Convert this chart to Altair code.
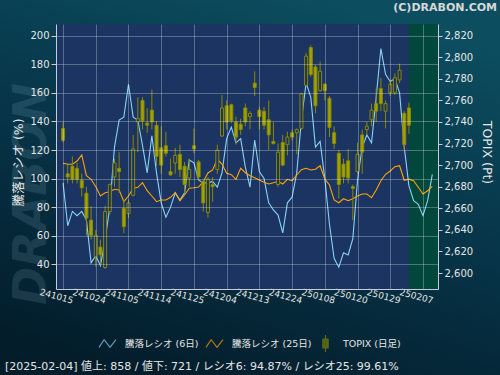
import altair as alt
import pandas as pd

# ---------------- data ----------------
date_labels = ["241015", "241024", "241105", "241114", "241125", "241204",
               "241213", "241224", "250108", "250120", "250129", "250207"]

ratio6 = [97, 67, 77, 74, 77, 71, 41, 46, 39, 57,
          80, 122, 141, 143, 166, 143, 141, 123, 104, 130,
          104, 83, 73, 80, 90, 85, 90, 113, 111, 99,
          97, 97, 98, 94, 104, 128, 136, 125, 128, 108,
          94, 127, 105, 100, 83, 78, 74.5, 62, 83, 87,
          104, 141, 167, 157, 122, 126, 100, 68, 44, 38,
          48, 46.5, 58, 99, 122, 130.5, 125, 157, 191, 173,
          168, 170, 160, 122, 94.87, 84.5, 82, 74, 84.5, 103]

ratio25 = [110.7, 110, 110, 112.3, 116.5, 102, 99.5, 94.3, 87.8, 90.1,
           90.8, 92.5, 92, 83.8, 87.8, 93.2, 93.9, 97.1, 91.5, 87.8,
           83.8, 85, 85, 86.9, 90.1, 84.5, 88.5, 93.2, 93.6, 94.1,
           97.8, 103.9, 106, 113.5, 110.2, 103.7, 102.7, 99.5, 107.2, 104.1,
           102, 100.5, 99, 97.4, 96.2, 97.1, 98.1, 96.2, 99.5, 98.5,
           102.5, 106.2, 107.2, 106, 106.5, 109, 99.7, 95.5, 85, 83.1,
           85.9, 84.5, 85.9, 87.8, 89.2, 89.2, 86.6, 92, 98.5, 103,
           105.3, 108.3, 109, 98.8, 99.61, 98.5, 93.9, 89.2, 91.5, 94.6]

topix_open = [2734, 2692, 2699, 2697, 2686, 2674, 2649, 2615, 2624, 2605,
              2657, 2689, 2697, 2660, 2655, 2672, 2740, 2760, 2739, 2751,
              2737, 2716, 2718, 2694, 2702, 2710, 2699, 2688, 2718, 2703,
              2685, 2656, 2682, 2696, 2727, 2755, 2756, 2740, 2738, 2753,
              2745, 2776, 2751, 2750, 2742, 2722, 2682, 2721, 2719, 2730,
              2730, 2734, 2774, 2809, 2791, 2769, 2775, 2762, 2730, 2711,
              2701, 2704, 2680, 2694, 2728, 2733, 2742, 2757, 2771, 2750,
              2767, 2767, 2779, 2748, 2753]
topix_high = [2740, 2702, 2708, 2702, 2692, 2680, 2662, 2640, 2631, 2662,
              2683, 2706, 2712, 2669, 2668, 2728, 2763, 2763, 2753, 2770,
              2741, 2736, 2731, 2706, 2716, 2719, 2703, 2706, 2734, 2705,
              2686, 2689, 2689, 2719, 2765, 2760, 2757, 2745, 2743, 2757,
              2750, 2787, 2754, 2754, 2760, 2740, 2720, 2728, 2731, 2733,
              2734, 2767, 2804, 2811, 2793, 2796, 2776, 2764, 2736, 2714,
              2706, 2715, 2682, 2721, 2733, 2740, 2757, 2771, 2781, 2760,
              2779, 2785, 2794, 2750, 2758]
topix_low = [2721, 2683, 2683, 2683, 2671, 2635, 2631, 2606, 2607, 2604,
             2654, 2680, 2674, 2637, 2651, 2671, 2712, 2733, 2730, 2733,
             2699, 2692, 2708, 2690, 2692, 2689, 2674, 2680, 2711, 2685,
             2657, 2651, 2666, 2692, 2726, 2733, 2739, 2719, 2728, 2736,
             2733, 2764, 2733, 2733, 2714, 2719, 2680, 2699, 2709, 2723,
             2710, 2733, 2773, 2782, 2748, 2768, 2760, 2726, 2715, 2669,
             2683, 2683, 2649, 2692, 2692, 2728, 2736, 2740, 2750, 2734,
             2764, 2765, 2776, 2713, 2729]
topix_close = [2723, 2689, 2687, 2687, 2679, 2651, 2635, 2635, 2617, 2657,
               2682, 2702, 2694, 2643, 2665, 2715, 2743, 2741, 2737, 2740,
               2708, 2700, 2711, 2691, 2709, 2696, 2682, 2696, 2715, 2689,
               2665, 2687, 2680, 2714, 2753, 2740, 2741, 2726, 2733, 2740,
               2748, 2772, 2745, 2737, 2728, 2720, 2712, 2700, 2726, 2726,
               2733, 2766, 2801, 2784, 2755, 2787, 2769, 2735, 2720, 2682,
               2689, 2688, 2678.5, 2710, 2712, 2736, 2751, 2750, 2757, 2757,
               2775, 2781, 2788, 2719, 2737]

legend_names = ["騰落レシオ (6日)", "騰落レシオ (25日)", "TOPIX (日足)"]

status_date = "2025-02-04"
advances = 858
declines = 721
last_ratio6 = 94.87
last_ratio25 = 99.61
copyright_text = "(C)DRABON.COM"
watermark_text = "DRABON"

# ---------------- styles ----------------
FONT = "DejaVu Sans, Noto Sans CJK JP"
NAVY = "#1b3461"
GREEN = "#02473b"
BLUE = "#8ad2f4"
ORANGE = "#ffa300"
OLIVE = "#a3a300"
OLIVE_DARK = "#888800"
TEXT = "#e6e6e6"
AXIS_LINE = "#c8ccd8"

lines_df = pd.DataFrame({"i": list(range(len(ratio6))), "r6": ratio6, "r25": ratio25})
candle_df = pd.DataFrame({
    "i": list(range(len(topix_open))),
    "o": topix_open, "h": topix_high, "l": topix_low, "c": topix_close,
})
last_i = len(topix_open) - 1
one = pd.DataFrame({"k": [0]})

x_scale = alt.Scale(domain=[-0.44, 79.15], nice=False, zero=False)
tick_vals = [7 * k for k in range(len(date_labels))]
label_expr = "[" + ",".join("'%s'" % s for s in date_labels) + "][round(datum.value / 7)]"

x_axis = alt.Axis(
    values=tick_vals, labelExpr=label_expr, labelAngle=15, labelAlign="center",
    labelBaseline="top", labelOffset=-6, labelPadding=3, ticks=False,
    grid=True, gridColor="#ffffff", gridOpacity=0.28, gridWidth=1,
    domainColor=AXIS_LINE, labelColor=TEXT, labelFontSize=9, title=None,
    zindex=1, labelOverlap=False, labelFlush=False,
)

yl_scale = alt.Scale(domain=[22.7, 208.2], nice=False, zero=False)
yl_axis = alt.Axis(
    values=list(range(40, 201, 20)), title="騰落レシオ (%)", titleAngle=270,
    titleX=-38, titleY=138, titleAlign="center", titleBaseline="middle",
    titleFontSize=12.5, titleFontWeight="normal", titleColor=TEXT,
    grid=True, gridColor="#ffffff", gridOpacity=0.28,
    tickSize=5, tickColor=AXIS_LINE, domainColor=AXIS_LINE,
    labelColor=TEXT, labelFontSize=10, labelPadding=2, zindex=1,
)

yr_scale = alt.Scale(domain=[2585.2, 2830.8], nice=False, zero=False)
yr_axis = alt.Axis(
    orient="right", values=list(range(2600, 2821, 20)), format=",d",
    title="TOPIX (Pt)", titleAngle=90, titleX=48, titleY=128,
    titleAlign="center", titleBaseline="middle", titleFontSize=12.5,
    titleFontWeight="normal", titleColor=TEXT, grid=False,
    tickSize=4, tickColor=AXIS_LINE, domainColor=AXIS_LINE,
    labelColor=TEXT, labelFontSize=10, labelPadding=2, zindex=1,
)

# page background gradient (decoration)
page_bg = alt.Chart(one).mark_rect(
    color=alt.Gradient(
        gradient="linear",
        stops=[alt.GradientStop(color="#0c4e60", offset=0),
               alt.GradientStop(color="#07364a", offset=0.45),
               alt.GradientStop(color="#031d2b", offset=1)],
        x1=0.7, y1=0, x2=0.3, y2=1,
    )
).encode(x=alt.value(-56), x2=alt.value(444), y=alt.value(-24), y2=alt.value(351))

plot_bg = alt.Chart(one).mark_rect(color=NAVY).encode(
    x=alt.value(0), x2=alt.value("width"), y=alt.value(0), y2=alt.value("height")
)

green = alt.Chart(pd.DataFrame({"start": [last_i]})).mark_rect(color=GREEN).encode(
    x=alt.X("start:Q", scale=x_scale, axis=x_axis),
    x2=alt.value("width"), y=alt.value(0), y2=alt.value("height"),
)

lines = alt.Chart(lines_df).transform_fold(["r6", "r25"], as_=["series", "value"]).mark_line(
    strokeWidth=1.1
).encode(
    x=alt.X("i:Q", scale=x_scale, axis=x_axis),
    y=alt.Y("value:Q", scale=yl_scale, axis=yl_axis),
    color=alt.Color("series:N", scale=alt.Scale(domain=["r6", "r25"], range=[BLUE, ORANGE]), legend=None),
)

zig = "M-1,0.45L-0.4,-0.45L0.3,0.45L1,-0.45"
candle_icon = "M-0.31,-0.53H0.31V0.53H-0.31Z M0,-0.53V-1 M0,0.53V1"
leg = alt.Legend(
    orient="none", legendX=42, legendY=310, direction="horizontal", title=None,
    symbolSize=289, symbolStrokeWidth=1.2, labelFontSize=9.5, labelColor=TEXT,
    labelFont=FONT, labelOffset=8, columnPadding=4, padding=0, gridAlign="none",
)
legend_layer = alt.Chart(pd.DataFrame({"name": legend_names})).transform_filter("false").mark_point().encode(
    shape=alt.Shape("name:N", scale=alt.Scale(domain=legend_names, range=[zig, zig, candle_icon]), legend=leg),
    stroke=alt.Stroke("name:N", scale=alt.Scale(domain=legend_names, range=[BLUE, ORANGE, OLIVE_DARK]), legend=leg),
    fill=alt.Fill("name:N", scale=alt.Scale(domain=legend_names, range=["transparent", "transparent", OLIVE]), legend=leg),
)

status_text = "[%s]  値上: %d / 値下: %d / レシオ6: %.2f%% / レシオ25: %.2f%%" % (
    status_date, advances, declines, last_ratio6, last_ratio25)
status = alt.Chart(pd.DataFrame({"t": [status_text]})).mark_text(
    align="left", baseline="middle", fontSize=11, color=TEXT, font=FONT
).encode(text="t:N", x=alt.value(-51), y=alt.value(343))

copyright_mark = alt.Chart(pd.DataFrame({"t": [copyright_text]})).mark_text(
    align="right", baseline="middle", fontSize=11, fontWeight="bold", color="#d8d8d8", font=FONT
).encode(text="t:N", x=alt.value(441), y=alt.value(-16))

watermark = alt.Chart(pd.DataFrame({"t": [watermark_text]})).mark_text(
    align="center", baseline="middle", fontSize=46, fontWeight="bold", fontStyle="italic",
    angle=270, color="#9fc0d0", opacity=0.15, font="DejaVu Sans"
).encode(text="t:N", x=alt.value(-24), y=alt.value(170))

left = alt.layer(page_bg, plot_bg, watermark, green, lines, legend_layer, status, copyright_mark)

wick = alt.Chart(candle_df).mark_rule(color=OLIVE_DARK, strokeWidth=1).encode(
    x=alt.X("i:Q", scale=x_scale, axis=x_axis),
    y=alt.Y("l:Q", scale=yr_scale, axis=yr_axis),
    y2="h:Q",
)
body = alt.Chart(candle_df).mark_bar(size=3, stroke=OLIVE_DARK, strokeWidth=1).encode(
    x=alt.X("i:Q", scale=x_scale, axis=x_axis),
    y=alt.Y("o:Q", scale=yr_scale, axis=yr_axis),
    y2="c:Q",
    fill=alt.condition("datum.c < datum.o", alt.value(OLIVE), alt.value(NAVY)),
)
right = alt.layer(wick, body)

chart = alt.layer(left, right).resolve_scale(y="independent").properties(
    width=382, height=265,
    padding={"left": 56, "top": 24, "right": 62, "bottom": 86},
    autosize=alt.AutoSizeParams(type="none"),
    background="#062d3e",
).configure(font=FONT).configure_view(stroke=None)

chart.save("out.html", embed_options={"renderer": "svg", "actions": False})
